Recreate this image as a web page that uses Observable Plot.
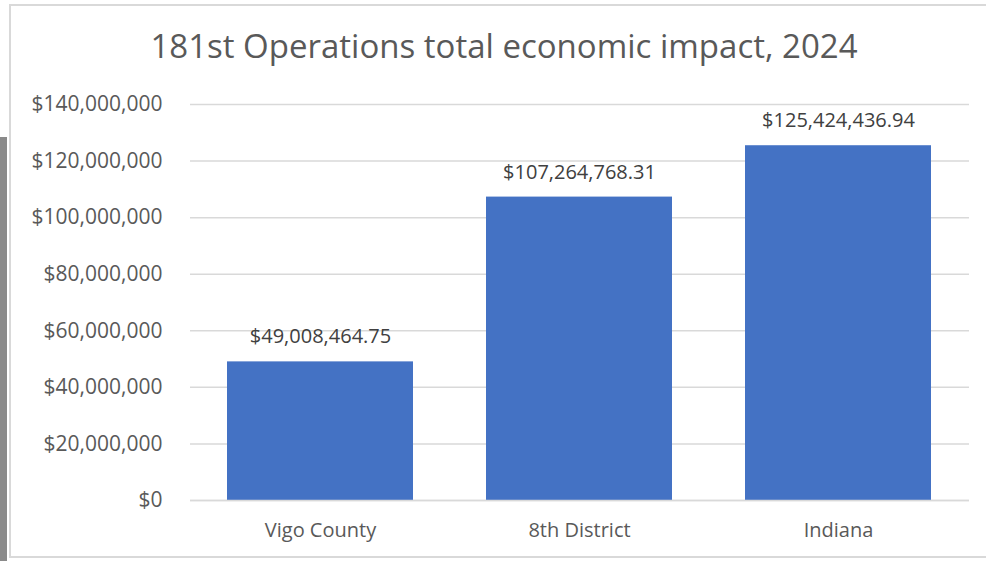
<!DOCTYPE html>
<html>
<head>
<meta charset="utf-8">
<script src="https://cdn.jsdelivr.net/npm/d3@7"></script>
<script src="https://cdn.jsdelivr.net/npm/@observablehq/plot@0.6"></script>
<style>
  html, body { margin: 0; padding: 0; background: #fff; }
  #wrap { position: relative; width: 986px; height: 561px; overflow: hidden; font-family: "Open Sans", sans-serif; }
  #box { position: absolute; left: 9px; top: 4px; width: 990px; height: 554px; border: 2px solid #d9d9d9; box-sizing: border-box; }
  #sidebar { position: absolute; left: 0; top: 137px; width: 7px; height: 430px; background: #8a8a8a; }
  #title { position: absolute; left: 0; width: 1008px; top: 26px; text-align: center; font-size: 33px; line-height: 40px; color: #595959; }
  #chart { position: absolute; left: 0; top: 0; }
</style>
</head>
<body>
<div id="wrap">
  <div id="box"></div>
  <div id="sidebar"></div>
  <div id="chart"></div>
  <div id="title">181st Operations total economic impact, 2024</div>
</div>
<script>
const categories = ["Vigo County", "8th District", "Indiana"];
const values = [49008464.75, 107264768.31, 125424436.94];
const valueLabels = ["$49,008,464.75", "$107,264,768.31", "$125,424,436.94"];
const yTicks = [0, 20000000, 40000000, 60000000, 80000000, 100000000, 120000000, 140000000];

const data = categories.map((c, i) => ({category: c, value: values[i], label: valueLabels[i]}));
const fmt = d => "$" + d3.format(",")(d);

const plot = Plot.plot({
  width: 986,
  height: 561,
  marginLeft: 190,
  marginRight: 17,
  marginTop: 104,
  marginBottom: 61,
  style: {fontFamily: "'Open Sans', sans-serif", fontSize: "20px", color: "#595959", background: "transparent"},
  x: {domain: categories, paddingInner: 0.28, paddingOuter: 0.14, label: null},
  y: {domain: [0, 140000000], label: null},
  marks: [
    Plot.gridY(yTicks, {stroke: "#d9d9d9", strokeOpacity: 1, strokeWidth: 1.5}),
    Plot.barY(data, {x: "category", y: "value", fill: "#4472C4"}),
    Plot.ruleY([0], {stroke: "#d9d9d9", strokeWidth: 1.5}),
    Plot.axisY(yTicks, {tickFormat: fmt, tickSize: 0, tickPadding: 28, fill: "#595959", fontSize: 21, label: null}),
    Plot.axisX({tickSize: 0, tickPadding: 22, fill: "#595959", fontSize: 20, label: null}),
    Plot.text(data, {x: "category", y: "value", text: "label", dy: -25, fill: "#404040", fontSize: 20})
  ]
});
document.getElementById("chart").appendChild(plot);
</script>
</body>
</html>
